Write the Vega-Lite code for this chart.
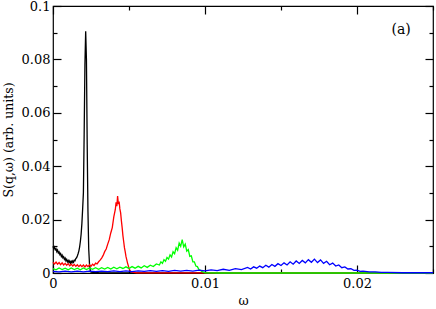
{
"$schema": "https://vega.github.io/schema/vega-lite/v6.json",
"width": 380, "height": 267,
"autosize": {"type": "none"},
"padding": {"left": 53, "top": 6, "right": 3, "bottom": 36},
"background": "white",
"config": {"view": {"stroke": "black", "strokeWidth": 1.2}, "axis": {"domainColor": "black", "domainWidth": 1.2, "tickColor": "black", "tickWidth": 1.2, "labelFont": "DejaVu Serif", "labelFontSize": 13, "labelColor": "black", "titleFont": "DejaVu Serif", "titleFontSize": 12.5, "titleFontWeight": "normal", "titleColor": "black", "grid": false, "labelFlush": false, "labelOverlap": false}},
"layer": [
{"data": {"values": [
{"c":"a","x":0,"y":0.0100},{"c":"a","x":0.00005,"y":0.0091},{"c":"a","x":0.0001,"y":0.0097},{"c":"a","x":0.00015,"y":0.0087},{"c":"a","x":0.0002,"y":0.0091},{"c":"a","x":0.00025,"y":0.0080},{"c":"a","x":0.0003,"y":0.0086},{"c":"a","x":0.00035,"y":0.0075},{"c":"a","x":0.0004,"y":0.0079},{"c":"a","x":0.00045,"y":0.0069},{"c":"a","x":0.0005,"y":0.0073},{"c":"a","x":0.00055,"y":0.0062},{"c":"a","x":0.0006,"y":0.0067},{"c":"a","x":0.00065,"y":0.0057},{"c":"a","x":0.0007,"y":0.0061},{"c":"a","x":0.00075,"y":0.0051},{"c":"a","x":0.0008,"y":0.0056},{"c":"a","x":0.00085,"y":0.0046},{"c":"a","x":0.0009,"y":0.0051},{"c":"a","x":0.00095,"y":0.0042},{"c":"a","x":0.001,"y":0.0047},{"c":"a","x":0.00105,"y":0.0039},{"c":"a","x":0.0011,"y":0.0045},{"c":"a","x":0.00115,"y":0.0037},{"c":"a","x":0.0012,"y":0.0044},{"c":"a","x":0.00125,"y":0.0038},{"c":"a","x":0.0013,"y":0.0045},{"c":"a","x":0.00135,"y":0.0040},{"c":"a","x":0.0014,"y":0.0048},{"c":"a","x":0.00145,"y":0.0046},{"c":"a","x":0.0015,"y":0.0054},{"c":"a","x":0.00155,"y":0.0057},{"c":"a","x":0.0016,"y":0.0064},{"c":"a","x":0.00165,"y":0.0072},{"c":"a","x":0.0017,"y":0.0082},{"c":"a","x":0.00175,"y":0.0097},{"c":"a","x":0.0018,"y":0.0118},{"c":"a","x":0.00185,"y":0.0145},{"c":"a","x":0.0019,"y":0.0185},{"c":"a","x":0.00195,"y":0.0240},{"c":"a","x":0.002,"y":0.0300},{"c":"a","x":0.00205,"y":0.0520},{"c":"a","x":0.0021,"y":0.0780},{"c":"a","x":0.00215,"y":0.0905},{"c":"a","x":0.0022,"y":0.0800},{"c":"a","x":0.00225,"y":0.0480},{"c":"a","x":0.0023,"y":0.0230},{"c":"a","x":0.00235,"y":0.0090},{"c":"a","x":0.0024,"y":0.0035},{"c":"a","x":0.00245,"y":0.0010},{"c":"a","x":0.0025,"y":0.0003},{"c":"a","x":0.003,"y":0.0001},{"c":"a","x":0.025,"y":0.0},
{"c":"b","x":0,"y":0.0040},{"c":"b","x":0.0001,"y":0.0034},{"c":"b","x":0.0002,"y":0.0041},{"c":"b","x":0.0003,"y":0.0033},{"c":"b","x":0.0004,"y":0.0039},{"c":"b","x":0.0005,"y":0.0031},{"c":"b","x":0.0006,"y":0.0038},{"c":"b","x":0.0007,"y":0.0030},{"c":"b","x":0.0008,"y":0.0036},{"c":"b","x":0.0009,"y":0.0029},{"c":"b","x":0.001,"y":0.0035},{"c":"b","x":0.0011,"y":0.0027},{"c":"b","x":0.0012,"y":0.0033},{"c":"b","x":0.0013,"y":0.0026},{"c":"b","x":0.0014,"y":0.0032},{"c":"b","x":0.0015,"y":0.0025},{"c":"b","x":0.0016,"y":0.0031},{"c":"b","x":0.0017,"y":0.0024},{"c":"b","x":0.0018,"y":0.0030},{"c":"b","x":0.0019,"y":0.0024},{"c":"b","x":0.002,"y":0.0030},{"c":"b","x":0.0021,"y":0.0023},{"c":"b","x":0.0022,"y":0.0030},{"c":"b","x":0.0023,"y":0.0024},{"c":"b","x":0.0024,"y":0.0031},{"c":"b","x":0.0025,"y":0.0025},{"c":"b","x":0.0026,"y":0.0033},{"c":"b","x":0.0027,"y":0.0028},{"c":"b","x":0.0028,"y":0.0037},{"c":"b","x":0.0029,"y":0.0034},{"c":"b","x":0.003,"y":0.0042},{"c":"b","x":0.0031,"y":0.0048},{"c":"b","x":0.0032,"y":0.0056},{"c":"b","x":0.0033,"y":0.0066},{"c":"b","x":0.0034,"y":0.0080},{"c":"b","x":0.0035,"y":0.0090},{"c":"b","x":0.0036,"y":0.0108},{"c":"b","x":0.0037,"y":0.0125},{"c":"b","x":0.0038,"y":0.0150},{"c":"b","x":0.0039,"y":0.0170},{"c":"b","x":0.004,"y":0.0210},{"c":"b","x":0.0041,"y":0.0238},{"c":"b","x":0.00415,"y":0.0265},{"c":"b","x":0.0042,"y":0.0250},{"c":"b","x":0.00425,"y":0.0288},{"c":"b","x":0.0043,"y":0.0258},{"c":"b","x":0.00435,"y":0.0268},{"c":"b","x":0.0044,"y":0.0240},{"c":"b","x":0.00445,"y":0.0225},{"c":"b","x":0.0045,"y":0.0195},{"c":"b","x":0.00455,"y":0.0170},{"c":"b","x":0.0046,"y":0.0140},{"c":"b","x":0.00465,"y":0.0118},{"c":"b","x":0.0047,"y":0.0095},{"c":"b","x":0.00475,"y":0.0080},{"c":"b","x":0.0048,"y":0.0062},{"c":"b","x":0.00485,"y":0.0050},{"c":"b","x":0.0049,"y":0.0038},{"c":"b","x":0.00495,"y":0.0028},{"c":"b","x":0.005,"y":0.0018},{"c":"b","x":0.00505,"y":0.0011},{"c":"b","x":0.0051,"y":0.0006},{"c":"b","x":0.0052,"y":0.0003},{"c":"b","x":0.0055,"y":0.0001},{"c":"b","x":0.025,"y":0.0},
{"c":"c","x":0,"y":0.0016},{"c":"c","x":0.0002,"y":0.0012},{"c":"c","x":0.0004,"y":0.0019},{"c":"c","x":0.0006,"y":0.0013},{"c":"c","x":0.0008,"y":0.0018},{"c":"c","x":0.001,"y":0.0012},{"c":"c","x":0.0012,"y":0.0019},{"c":"c","x":0.0014,"y":0.0013},{"c":"c","x":0.0016,"y":0.0018},{"c":"c","x":0.0018,"y":0.0012},{"c":"c","x":0.002,"y":0.0019},{"c":"c","x":0.0022,"y":0.0013},{"c":"c","x":0.0024,"y":0.0019},{"c":"c","x":0.0026,"y":0.0014},{"c":"c","x":0.0028,"y":0.0020},{"c":"c","x":0.003,"y":0.0014},{"c":"c","x":0.0032,"y":0.0020},{"c":"c","x":0.0034,"y":0.0015},{"c":"c","x":0.0036,"y":0.0021},{"c":"c","x":0.0038,"y":0.0015},{"c":"c","x":0.004,"y":0.0022},{"c":"c","x":0.0042,"y":0.0016},{"c":"c","x":0.0044,"y":0.0022},{"c":"c","x":0.0046,"y":0.0017},{"c":"c","x":0.0048,"y":0.0023},{"c":"c","x":0.005,"y":0.0017},{"c":"c","x":0.0052,"y":0.0024},{"c":"c","x":0.0054,"y":0.0018},{"c":"c","x":0.0056,"y":0.0025},{"c":"c","x":0.0058,"y":0.0019},{"c":"c","x":0.006,"y":0.0027},{"c":"c","x":0.0062,"y":0.0021},{"c":"c","x":0.0064,"y":0.0029},{"c":"c","x":0.0066,"y":0.0024},{"c":"c","x":0.0068,"y":0.0034},{"c":"c","x":0.007,"y":0.0030},{"c":"c","x":0.0071,"y":0.0042},{"c":"c","x":0.0072,"y":0.0036},{"c":"c","x":0.0073,"y":0.0050},{"c":"c","x":0.0074,"y":0.0044},{"c":"c","x":0.0075,"y":0.0058},{"c":"c","x":0.0076,"y":0.0052},{"c":"c","x":0.0077,"y":0.0068},{"c":"c","x":0.0078,"y":0.0060},{"c":"c","x":0.0079,"y":0.0080},{"c":"c","x":0.008,"y":0.0072},{"c":"c","x":0.0081,"y":0.0095},{"c":"c","x":0.0082,"y":0.0085},{"c":"c","x":0.0083,"y":0.0112},{"c":"c","x":0.0084,"y":0.0100},{"c":"c","x":0.0085,"y":0.0125},{"c":"c","x":0.0086,"y":0.0098},{"c":"c","x":0.0087,"y":0.0108},{"c":"c","x":0.0088,"y":0.0082},{"c":"c","x":0.0089,"y":0.0088},{"c":"c","x":0.009,"y":0.0062},{"c":"c","x":0.0091,"y":0.0064},{"c":"c","x":0.0092,"y":0.0042},{"c":"c","x":0.0093,"y":0.0042},{"c":"c","x":0.0094,"y":0.0026},{"c":"c","x":0.0095,"y":0.0024},{"c":"c","x":0.0096,"y":0.0013},{"c":"c","x":0.0097,"y":0.0010},{"c":"c","x":0.0098,"y":0.0005},{"c":"c","x":0.0099,"y":0.0003},{"c":"c","x":0.01,"y":0.0001},{"c":"c","x":0.011,"y":0.0},{"c":"c","x":0.025,"y":0.0},
{"c":"d","x":0,"y":0.0006},{"c":"d","x":0.0004,"y":0.0004},{"c":"d","x":0.0008,"y":0.0007},{"c":"d","x":0.0012,"y":0.0004},{"c":"d","x":0.0016,"y":0.0007},{"c":"d","x":0.002,"y":0.0004},{"c":"d","x":0.0024,"y":0.0007},{"c":"d","x":0.0028,"y":0.0005},{"c":"d","x":0.0032,"y":0.0007},{"c":"d","x":0.0036,"y":0.0005},{"c":"d","x":0.004,"y":0.0008},{"c":"d","x":0.0044,"y":0.0005},{"c":"d","x":0.0048,"y":0.0008},{"c":"d","x":0.0052,"y":0.0005},{"c":"d","x":0.0056,"y":0.0008},{"c":"d","x":0.006,"y":0.0006},{"c":"d","x":0.0064,"y":0.0009},{"c":"d","x":0.0068,"y":0.0006},{"c":"d","x":0.0072,"y":0.0009},{"c":"d","x":0.0076,"y":0.0006},{"c":"d","x":0.008,"y":0.0010},{"c":"d","x":0.0084,"y":0.0007},{"c":"d","x":0.0088,"y":0.0010},{"c":"d","x":0.0092,"y":0.0007},{"c":"d","x":0.0096,"y":0.0011},{"c":"d","x":0.01,"y":0.0008},{"c":"d","x":0.0104,"y":0.0012},{"c":"d","x":0.0108,"y":0.0009},{"c":"d","x":0.0112,"y":0.0014},{"c":"d","x":0.0116,"y":0.0010},{"c":"d","x":0.012,"y":0.0016},{"c":"d","x":0.0124,"y":0.0013},{"c":"d","x":0.0128,"y":0.0021},{"c":"d","x":0.013,"y":0.0015},{"c":"d","x":0.0132,"y":0.0023},{"c":"d","x":0.0134,"y":0.0018},{"c":"d","x":0.0136,"y":0.0026},{"c":"d","x":0.0138,"y":0.0020},{"c":"d","x":0.014,"y":0.0029},{"c":"d","x":0.0142,"y":0.0022},{"c":"d","x":0.0144,"y":0.0032},{"c":"d","x":0.0146,"y":0.0025},{"c":"d","x":0.0148,"y":0.0035},{"c":"d","x":0.015,"y":0.0028},{"c":"d","x":0.0152,"y":0.0038},{"c":"d","x":0.0154,"y":0.0030},{"c":"d","x":0.0156,"y":0.0042},{"c":"d","x":0.0158,"y":0.0033},{"c":"d","x":0.016,"y":0.0045},{"c":"d","x":0.0162,"y":0.0036},{"c":"d","x":0.0164,"y":0.0047},{"c":"d","x":0.0166,"y":0.0038},{"c":"d","x":0.0168,"y":0.0050},{"c":"d","x":0.017,"y":0.0040},{"c":"d","x":0.0172,"y":0.0052},{"c":"d","x":0.0174,"y":0.0039},{"c":"d","x":0.0176,"y":0.0049},{"c":"d","x":0.0178,"y":0.0036},{"c":"d","x":0.018,"y":0.0044},{"c":"d","x":0.0182,"y":0.0031},{"c":"d","x":0.0184,"y":0.0037},{"c":"d","x":0.0186,"y":0.0026},{"c":"d","x":0.0188,"y":0.0030},{"c":"d","x":0.019,"y":0.0020},{"c":"d","x":0.0192,"y":0.0023},{"c":"d","x":0.0194,"y":0.0015},{"c":"d","x":0.0196,"y":0.0016},{"c":"d","x":0.0198,"y":0.0010},{"c":"d","x":0.02,"y":0.0011},{"c":"d","x":0.0202,"y":0.0006},{"c":"d","x":0.0204,"y":0.0007},{"c":"d","x":0.0208,"y":0.0004},{"c":"d","x":0.0212,"y":0.0004},{"c":"d","x":0.0216,"y":0.0002},{"c":"d","x":0.022,"y":0.0002},{"c":"d","x":0.023,"y":0.0001},{"c":"d","x":0.025,"y":0.0001}
]},
"mark": {"type": "line", "strokeWidth": 1.3},
"encoding": {
"x": {"field": "x", "type": "quantitative", "scale": {"domain": [0, 0.025], "nice": false, "zero": false},
 "axis": {"orient": "bottom", "title": "ω", "values": [0, 0.01, 0.02], "format": "~g", "domain": false, "tickSize": 8, "offset": -8, "labelPadding": 4, "titlePadding": 4}},
"y": {"field": "y", "type": "quantitative", "scale": {"domain": [0, 0.1], "nice": false, "zero": false},
 "axis": {"orient": "left", "title": "S(q,ω) (arb. units)", "values": [0, 0.02, 0.04, 0.06, 0.08, 0.1], "format": "~g", "domain": false, "tickSize": 8, "offset": -8, "labelPadding": 3, "titlePadding": 6}},
"color": {"field": "c", "type": "nominal", "scale": {"domain": ["a", "b", "c", "d"], "range": ["#000000", "#ff0000", "#00ff00", "#0000ff"]}, "legend": null}
}},
{"data": {"values": [{"x": 0.0229, "y": 0.091, "t": "(a)"}]},
"mark": {"type": "text", "font": "DejaVu Serif", "fontSize": 14, "color": "black"},
"encoding": {"x": {"field": "x", "type": "quantitative", "axis": null}, "y": {"field": "y", "type": "quantitative", "axis": null}, "text": {"field": "t"}}},
{"data": {"values": [{"x": 0, "y": 0}]},
"mark": {"type": "point", "opacity": 0},
"encoding": {
"x": {"field": "x", "type": "quantitative", "axis": {"orient": "top", "title": null, "labels": false, "domain": false, "values": [0, 0.01, 0.02], "tickSize": 8, "offset": -8}},
"y": {"field": "y", "type": "quantitative", "axis": {"orient": "right", "title": null, "labels": false, "domain": false, "values": [0, 0.02, 0.04, 0.06, 0.08, 0.1], "tickSize": 8, "offset": -8}}
}},
{"data": {"values": [{"x": 0, "y": 0}]},
"mark": {"type": "point", "opacity": 0},
"encoding": {
"x": {"field": "x", "type": "quantitative", "axis": {"orient": "top", "title": null, "labels": false, "domain": false, "values": [0.005, 0.015, 0.025], "tickSize": 4, "offset": -4}},
"y": {"field": "y", "type": "quantitative", "axis": {"orient": "right", "title": null, "labels": false, "domain": false, "values": [0.01, 0.03, 0.05, 0.07, 0.09], "tickSize": 4, "offset": -4}}
}},
{"data": {"values": [{"x": 0, "y": 0}]},
"mark": {"type": "point", "opacity": 0},
"encoding": {
"x": {"field": "x", "type": "quantitative", "axis": {"orient": "bottom", "title": null, "labels": false, "domain": false, "values": [0.005, 0.015, 0.025], "tickSize": 4, "offset": -4}},
"y": {"field": "y", "type": "quantitative", "axis": {"orient": "left", "title": null, "labels": false, "domain": false, "values": [0.01, 0.03, 0.05, 0.07, 0.09], "tickSize": 4, "offset": -4}}
}}
],
"resolve": {"axis": {"x": "independent", "y": "independent"}}
}
